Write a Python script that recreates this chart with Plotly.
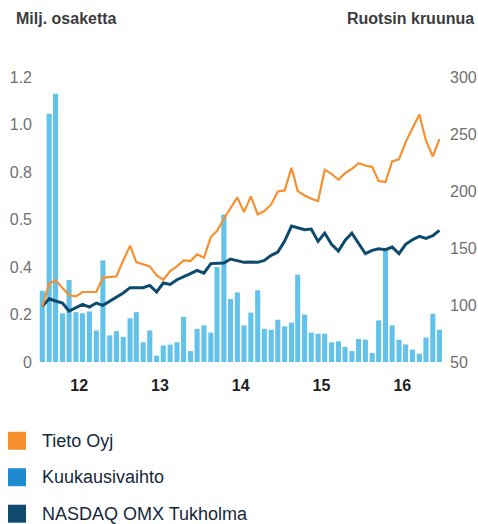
import plotly.graph_objects as go

# ---- data ----
months = [f"{y}-{m:02d}-16" for y in range(2012, 2017) for m in range(1, 13)]
year_ticks = ["2012-07-01", "2013-07-01", "2014-07-01", "2015-07-01", "2016-07-01"]
year_labels = ["12", "13", "14", "15", "16"]

# Monthly turnover, million shares (left axis)
volume = [0.30, 1.045, 1.13, 0.205, 0.345, 0.21, 0.205, 0.213, 0.133, 0.428,
          0.112, 0.13, 0.105, 0.184, 0.21, 0.083, 0.133, 0.027, 0.07, 0.073,
          0.083, 0.19, 0.046, 0.14, 0.154, 0.124, 0.40, 0.621, 0.265, 0.293,
          0.154, 0.208, 0.302, 0.14, 0.136, 0.178, 0.15, 0.166, 0.368, 0.20,
          0.124, 0.119, 0.119, 0.083, 0.087, 0.063, 0.046, 0.097, 0.094, 0.038,
          0.175, 0.47, 0.154, 0.094, 0.074, 0.052, 0.035, 0.103, 0.203, 0.136]

# Tieto Oyj share price, SEK (right axis)
tieto = [98.8, 118.7, 121.6, 115.2, 108.5, 107.6, 111.4, 111.4, 111.4, 124.0,
         124.5, 125.1, 139.1, 152.0, 137.7, 135.6, 133.9, 126.0, 122.2, 129.8,
         133.9, 139.1, 138.5, 144.4, 141.5, 159.6, 164.8, 175.7, 184.5, 194.4,
         181.5, 195.3, 179.5, 182.4, 188.2, 199.6, 200.5, 220.4, 199.9, 196.1,
         193.2, 191.1, 218.6, 215.1, 209.9, 215.7, 219.5, 224.4, 222.4, 221.0,
         208.7, 207.8, 226.0, 227.7, 242.9, 254.6, 267.1, 244.3, 230.3, 245.8]

# NASDAQ OMX Stockholm index (rebased, right axis)
omx = [98.8, 105.5, 103.5, 101.7, 94.7, 97.7, 100.6, 98.2, 101.7, 99.7,
       103.5, 106.4, 110.5, 115.2, 115.2, 115.2, 117.2, 111.4, 119.3, 118.1,
       122.2, 124.5, 127.5, 130.4, 128.0, 136.3, 136.3, 136.8, 140.3, 138.5,
       137.4, 137.7, 137.4, 139.1, 143.5, 146.4, 156.1, 169.2, 167.8, 166.0,
       166.6, 155.8, 163.1, 153.2, 147.3, 156.7, 163.1, 154.3, 145.0, 147.9,
       149.4, 148.5, 150.8, 145.0, 153.2, 157.3, 160.2, 158.4, 160.8, 165.4]

left_ticks = [0, 0.2, 0.4, 0.6, 0.8, 1.0, 1.2]
left_labels = ["0", "0.2", "0.4", "0.5", "0.8", "1.0", "1.2"]
right_ticks = [50, 100, 150, 200, 250, 300]

legend_names = ["Tieto Oyj", "Kuukausivaihto", "NASDAQ OMX Tukholma"]
legend_colors = ["#f7902e", "#1f8ad0", "#0d4a6e"]

# ---- figure ----
FONT = "Liberation Sans, Arial, Helvetica, sans-serif"
DAY_MS = 86400000

fig = go.Figure()
fig.add_trace(go.Bar(x=months, y=volume, name="Kuukausivaihto",
                     marker=dict(color="#62c2ea", line=dict(width=0)),
                     width=23 * DAY_MS, yaxis="y", showlegend=False))
fig.add_trace(go.Scatter(x=months, y=omx, name="NASDAQ OMX Tukholma", mode="lines",
                         line=dict(color="#0d4a6e", width=3), yaxis="y2", showlegend=False))
fig.add_trace(go.Scatter(x=months, y=tieto, name="Tieto Oyj", mode="lines",
                         line=dict(color="#f7902e", width=2.2), yaxis="y2", showlegend=False))

W, H = 478, 524
L, R, T, B = 39, 443, 76.5, 361.7

def px(xp):
    return (xp - L) / (R - L)

def py(yp):
    return (B - yp) / (B - T)

annotations = [
    dict(text="<b>Milj. osaketta</b>", x=px(14), y=py(18), xref="paper", yref="paper",
         xanchor="left", yanchor="middle", showarrow=False,
         font=dict(size=16, color="#3c3c3c", family=FONT)),
    dict(text="<b>Ruotsin kruunua</b>", x=px(476), y=py(18), xref="paper", yref="paper",
         xanchor="right", yanchor="middle", showarrow=False,
         font=dict(size=16, color="#3c3c3c", family=FONT)),
]
shapes = []
legend_y = [440.5, 477, 513.5]
for name, col, yy in zip(legend_names, legend_colors, legend_y):
    shapes.append(dict(type="rect", xref="paper", yref="paper",
                       x0=px(8), x1=px(26), y0=py(yy - 9), y1=py(yy + 9),
                       fillcolor=col, line=dict(width=0)))
    annotations.append(dict(text=name, x=px(40), y=py(yy), xref="paper", yref="paper",
                            xanchor="left", yanchor="middle", showarrow=False,
                            font=dict(size=18, color="#15283a", family=FONT)))

fig.update_layout(
    width=W, height=H,
    margin=dict(l=L, r=W - R, t=T, b=H - B, pad=0, autoexpand=False),
    paper_bgcolor="white", plot_bgcolor="white",
    font=dict(family=FONT),
    showlegend=False,
    bargap=0.25,
    xaxis=dict(type="date", range=["2012-01-01", "2017-01-01"], automargin=False,
               tickmode="array", tickvals=year_ticks, ticktext=year_labels,
               showgrid=False, zeroline=False, showline=False, ticks="",
               ticklabelstandoff=12,
               tickfont=dict(size=16, color="#222222", family=FONT, weight="bold")),
    yaxis=dict(range=[0, 1.2], tickmode="array", tickvals=left_ticks, ticktext=left_labels,
               automargin=False,
               showgrid=False, zeroline=False, showline=False, ticks="",
               ticklabelstandoff=6,
               tickfont=dict(size=16, color="#707070", family=FONT)),
    yaxis2=dict(range=[50, 300], overlaying="y", side="right", tickmode="array",
                automargin=False,
                tickvals=right_ticks, showgrid=False, zeroline=False, showline=False,
                ticks="", ticklabelstandoff=6,
                tickfont=dict(size=16, color="#707070", family=FONT)),
    annotations=annotations,
    shapes=shapes,
)

fig.write_html("out.html",
               config={"displayModeBar": False},
               post_script="document.body.style.margin='0';document.body.style.overflow='hidden';")
